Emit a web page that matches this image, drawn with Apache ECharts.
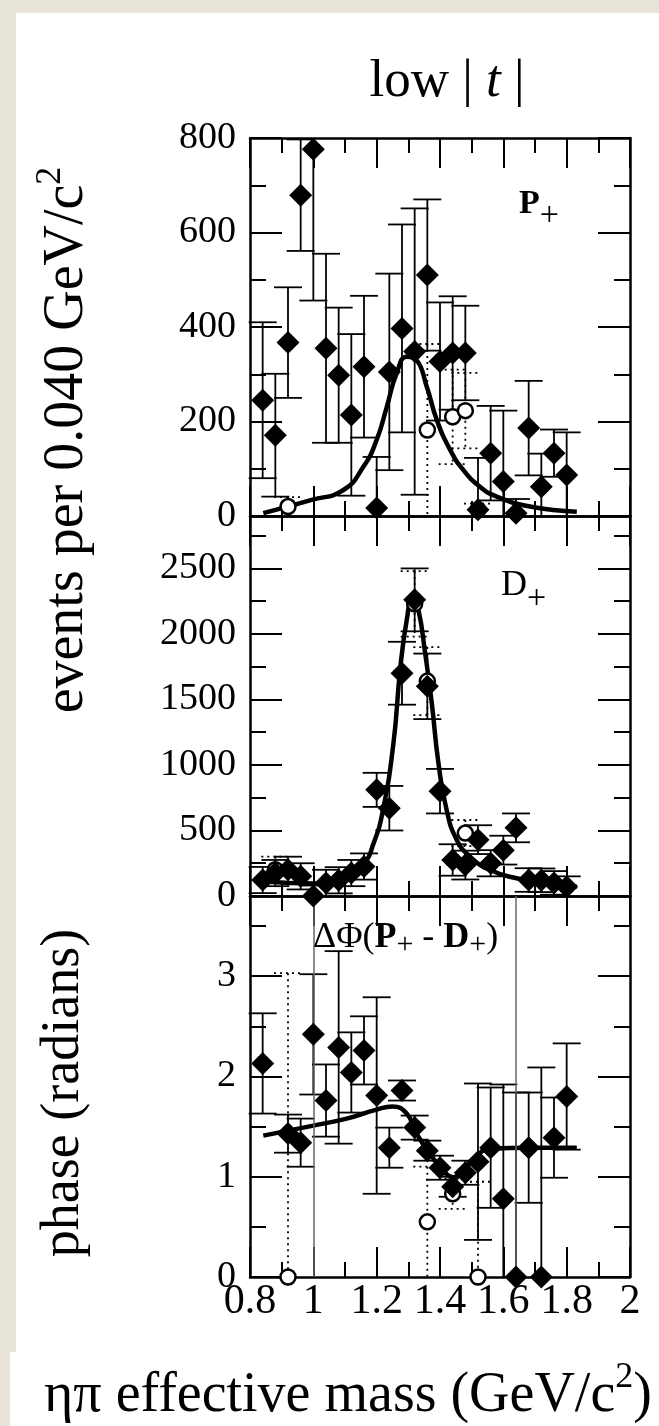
<!DOCTYPE html>
<html>
<head>
<meta charset="utf-8">
<script src="https://cdn.jsdelivr.net/npm/echarts@6/dist/echarts.min.js"></script>
<style>
html, body { margin: 0; padding: 0; background: #e8e4d8; }
#main { width: 659px; height: 1426px; }
</style>
</head>
<body>
<div id="main"></div>
<script>
// bin centres (GeV/c^2)
var mass = [0.84, 0.88, 0.92, 0.96, 1.00, 1.04, 1.08, 1.12, 1.16, 1.20, 1.24, 1.28, 1.32,
            1.36, 1.40, 1.44, 1.48, 1.52, 1.56, 1.60, 1.64, 1.68, 1.72, 1.76, 1.80];

// P+ wave, filled diamonds
var pWave = [245, 171, 367, 679, 776, 355, 298, 214, 316, 17, 305, 397, 348,
             510, 327, 345, 345, 13, 133, 73, 6, 186, 62, 133, 87];
var pErr  = [165, 130, 117, 118, 320, 200, 143, 171, 150, 108, 208, 220, 303,
             160, 125, 120, 100, 110, 100, 150, 30, 100, 70, 50, 90];
// P+ second solution, open circles [mass, value, err]
var pAlt = [[0.92, 20, 20], [1.36, 182, 182], [1.44, 210, 100], [1.48, 223, 80], [1.52, 13, 13]];
// P+ fit curve
var pFit = [[0.842, 6], [0.995, 34], [1.095, 55], [1.158, 104], [1.200, 161], [1.232, 231],
            [1.263, 302], [1.295, 337], [1.326, 330], [1.358, 274], [1.390, 203], [1.432, 140],
            [1.474, 97], [1.526, 62], [1.579, 41], [1.684, 20], [1.832, 9]];

// D+ wave
var dWave = [122, 175, 200, 150, 0, 100, 120, 175, 225, 810, 670, 1700, 2260,
             1600, 800, 275, 236, 430, 250, 350, 520, 122, 120, 100, 70];
var dErr  = [100, 100, 100, 100, 80, 100, 100, 100, 100, 130, 170, 240, 240,
             250, 170, 120, 110, 110, 100, 110, 110, 90, 90, 90, 80];
var dAlt = [[0.88, 200, 100], [1.32, 2230, 250], [1.36, 1640, 260], [1.48, 480, 100]];
var dFit = [[0.842, 110], [1.005, 95], [1.095, 175], [1.158, 250], [1.190, 400], [1.220, 656],
            [1.253, 1166], [1.274, 1725], [1.295, 2107], [1.314, 2285], [1.332, 2183],
            [1.353, 1855], [1.374, 1473], [1.395, 1015], [1.421, 656], [1.453, 427],
            [1.495, 300], [1.558, 198], [1.642, 135], [1.737, 97], [1.832, 71]];

// phase difference P+ - D+
var phMass = [0.84, 0.92, 0.96, 1.00, 1.04, 1.08, 1.12, 1.16, 1.20, 1.24, 1.28, 1.32,
              1.36, 1.40, 1.44, 1.48, 1.52, 1.56, 1.60, 1.64, 1.68, 1.72, 1.76, 1.80];
var phase  = [2.13, 1.43, 1.34, 2.42, 1.76, 2.29, 2.04, 2.26, 1.81, 1.29, 1.86, 1.49,
              1.26, 1.09, 0.90, 1.04, 1.15, 1.29, 0.78, 0, 1.29, 0, 1.39, 1.80];
var phErr  = [0.50, 0.19, 0.24, 0.60, 0.36, 0.96, 0.40, 0.34, 0.98, 0.20, 0.10, 0.12,
              0.10, 0.12, 0.10, 0.12, 0.78, 0.60, 1.14, 1.84, 0.55, 2.09, 0.40, 0.53];
var phAlt = [[0.92, 0, 3.03], [1.36, 0.55, 0.55], [1.44, 0.83, 0.15], [1.52, 0, 0.95]];
var phFit = [[0.842, 1.41], [1.000, 1.51], [1.105, 1.58], [1.200, 1.67], [1.250, 1.70],
             [1.295, 1.63], [1.326, 1.43], [1.368, 1.23], [1.410, 1.06], [1.442, 0.995],
             [1.474, 1.06], [1.516, 1.21], [1.558, 1.28], [1.684, 1.29], [1.832, 1.29]];
var phLines = [1.00, 1.64];

var yMax = [800, 2900, 3.8];
var yStep = [200, 500, 1];

var serif = 'Liberation Serif';

function triples(xs, ys, es) {
    return xs.map(function (x, i) { return [x, ys[i], es[i]]; });
}

function errorBars(g, data, dotted) {
    var top = yMax[g];
    return {
        type: 'custom',
        xAxisIndex: 2 * g,
        yAxisIndex: 2 * g,
        data: data,
        silent: true,
        z: 2,
        encode: { x: 0, y: 1 },
        renderItem: function (params, api) {
            var x = api.value(0), y = api.value(1), e = api.value(2);
            var hiV = Math.min(y + e, top), loV = Math.max(y - e, 0);
            var hi = api.coord([x, hiV]);
            var lo = api.coord([x, loV]);
            var w = 14;
            var st = { stroke: '#000', lineWidth: 1.8, lineDash: dotted ? [2, 4] : null };
            var kids = [{ type: 'line', shape: { x1: hi[0], y1: hi[1], x2: lo[0], y2: lo[1] }, style: st }];
            if (y + e < top) {
                kids.push({ type: 'line', shape: { x1: hi[0] - w, y1: hi[1], x2: hi[0] + w, y2: hi[1] }, style: st });
            }
            if (y - e > 0) {
                kids.push({ type: 'line', shape: { x1: lo[0] - w, y1: lo[1], x2: lo[0] + w, y2: lo[1] }, style: st });
            }
            return { type: 'group', children: kids };
        }
    };
}

function diamonds(g, data) {
    return {
        type: 'scatter', xAxisIndex: 2 * g, yAxisIndex: 2 * g, z: 5,
        symbol: 'diamond', symbolSize: 23,
        itemStyle: { color: '#000', opacity: 1 },
        emphasis: { disabled: true },
        data: data.map(function (d) { return [d[0], d[1]]; })
    };
}

function circles(g, data) {
    return {
        type: 'scatter', xAxisIndex: 2 * g, yAxisIndex: 2 * g, z: 4,
        symbol: 'circle', symbolSize: 15,
        itemStyle: { color: '#fff', borderColor: '#000', borderWidth: 2.5, opacity: 1 },
        emphasis: { disabled: true },
        data: data.map(function (d) { return [d[0], d[1]]; })
    };
}

function fit(g, data) {
    return {
        type: 'line', xAxisIndex: 2 * g, yAxisIndex: 2 * g, z: 3,
        smooth: true, showSymbol: false,
        lineStyle: { color: '#000', width: 4.5 },
        data: data
    };
}

var tickLine = { color: '#000', width: 2 };

function xAx(g, pos, labels) {
    return {
        type: 'value', gridIndex: g, position: pos,
        min: 0.8, max: 2, interval: 0.2,
        axisLine: { show: true, onZero: false, lineStyle: { color: '#000', width: 2.5 } },
        axisTick: { show: true, inside: true, length: 30, lineStyle: tickLine },
        minorTick: { show: true, splitNumber: 2, length: 15, lineStyle: tickLine },
        splitLine: { show: false },
        axisLabel: { show: labels, color: '#000', fontFamily: serif, fontSize: 42, margin: 4 }
    };
}

function yAx(g, pos, labels) {
    return {
        type: 'value', gridIndex: g, position: pos,
        min: 0, max: yMax[g], interval: yStep[g],
        axisLine: { show: true, onZero: false, lineStyle: { color: '#000', width: 2.5 } },
        axisTick: { show: true, inside: true, length: 32, lineStyle: tickLine },
        minorTick: { show: true, splitNumber: 2, length: 16, lineStyle: tickLine },
        splitLine: { show: false },
        axisLabel: {
            show: labels, color: '#000', fontFamily: serif, fontSize: 38, margin: 14,
            showMaxLabel: g === 0,
            formatter: function (v) { return (v % yStep[g] === 0) ? String(v) : ''; }
        }
    };
}

var grids = [
    { left: 250, top: 138, width: 380, height: 378 },
    { left: 250, top: 516, width: 380, height: 380 },
    { left: 250, top: 896, width: 380, height: 381 }
];

var xAxes = [], yAxes = [];
for (var g = 0; g < 3; g++) {
    xAxes.push(xAx(g, 'bottom', g === 2));
    xAxes.push(xAx(g, 'top', false));
    yAxes.push(yAx(g, 'left', true));
    yAxes.push(yAx(g, 'right', false));
}

var pData = triples(mass, pWave, pErr);
var dData = triples(mass, dWave, dErr);
var phData = triples(phMass, phase, phErr);

var phLineSeries = fit(2, phFit);
phLineSeries.markLine = {
    silent: true, symbol: 'none', label: { show: false },
    lineStyle: { color: '#666', width: 1.5, type: 'solid' },
    data: phLines.map(function (v) { return { xAxis: v }; })
};

var series = [
    errorBars(0, pData, false), errorBars(0, pAlt, true), fit(0, pFit), diamonds(0, pData), circles(0, pAlt),
    errorBars(1, dData, false), errorBars(1, dAlt, true), fit(1, dFit), diamonds(1, dData), circles(1, dAlt),
    errorBars(2, phData, false), errorBars(2, phAlt, true), phLineSeries, diamonds(2, phData), circles(2, phAlt)
];

var big = 54;
var graphic = [
    { type: 'rect', z: -10, shape: { x: 16, y: 13, width: 643, height: 1413 }, style: { fill: '#fff' } },
    { type: 'rect', z: -10, shape: { x: 10, y: 1352, width: 649, height: 74 }, style: { fill: '#fff' } },
    {
        type: 'text', x: 447, y: 82, z: 10,
        style: {
            text: '{n|low | }{i|t}{n| |}', textAlign: 'center', textVerticalAlign: 'middle', fill: '#000',
            rich: {
                n: { fontFamily: serif, fontSize: 53, fill: '#000' },
                i: { fontFamily: serif, fontSize: 53, fontStyle: 'italic', fill: '#000' }
            }
        }
    },
    {
        type: 'text', x: 64, y: 440, rotation: Math.PI / 2, z: 10,
        style: {
            text: '{n|events per 0.040 GeV/c}{s|2}', textAlign: 'center', textVerticalAlign: 'middle', fill: '#000',
            rich: {
                n: { fontFamily: serif, fontSize: 56, fill: '#000', lineHeight: 62, verticalAlign: 'bottom' },
                s: { fontFamily: serif, fontSize: 36, fill: '#000', lineHeight: 62, verticalAlign: 'top' }
            }
        }
    },
    {
        type: 'text', x: 64, y: 1093, rotation: Math.PI / 2, z: 10,
        style: {
            text: 'phase (radians)', textAlign: 'center', textVerticalAlign: 'middle',
            fill: '#000', fontFamily: serif, fontSize: 54
        }
    },
    {
        type: 'text', x: 348, y: 1392, z: 10,
        style: {
            text: '{n|ηπ effective mass (GeV/c}{s|2}{n|)}', textAlign: 'center', textVerticalAlign: 'middle', fill: '#000',
            rich: {
                n: { fontFamily: serif, fontSize: 56, fill: '#000', lineHeight: 64, verticalAlign: 'bottom' },
                s: { fontFamily: serif, fontSize: 36, fill: '#000', lineHeight: 64, verticalAlign: 'top' }
            }
        }
    },
    {
        type: 'text', x: 519, y: 210, z: 10,
        style: {
            text: '{b|P}{s|+}', textAlign: 'left', textVerticalAlign: 'middle', fill: '#000',
            rich: {
                b: { fontFamily: serif, fontSize: 34, fontWeight: 'bold', fill: '#000', lineHeight: 46, verticalAlign: 'top' },
                s: { fontFamily: serif, fontSize: 34, fill: '#000', lineHeight: 46, verticalAlign: 'bottom' }
            }
        }
    },
    {
        type: 'text', x: 501, y: 592, z: 10,
        style: {
            text: '{b|D}{s|+}', textAlign: 'left', textVerticalAlign: 'middle', fill: '#000',
            rich: {
                b: { fontFamily: serif, fontSize: 36, fill: '#000', lineHeight: 48, verticalAlign: 'top' },
                s: { fontFamily: serif, fontSize: 34, fill: '#000', lineHeight: 48, verticalAlign: 'bottom' }
            }
        }
    },
    {
        type: 'text', x: 313, y: 938, z: 10,
        style: {
            text: '{n|ΔΦ(}{b|P}{s|+}{n| - }{b|D}{s|+}{n|)}', textAlign: 'left', textVerticalAlign: 'middle', fill: '#000',
            rich: {
                n: { fontFamily: serif, fontSize: 36, fill: '#000', lineHeight: 44 },
                b: { fontFamily: serif, fontSize: 36, fontWeight: 'bold', fill: '#000', lineHeight: 44 },
                s: { fontFamily: serif, fontSize: 30, fill: '#000', lineHeight: 44, verticalAlign: 'bottom' }
            }
        }
    }
];

var myChart = echarts.init(document.getElementById('main'));
myChart.setOption({
    backgroundColor: '#e8e4d8',
    animation: false,
    grid: grids,
    xAxis: xAxes,
    yAxis: yAxes,
    series: series,
    graphic: graphic
});
</script>
</body>
</html>
